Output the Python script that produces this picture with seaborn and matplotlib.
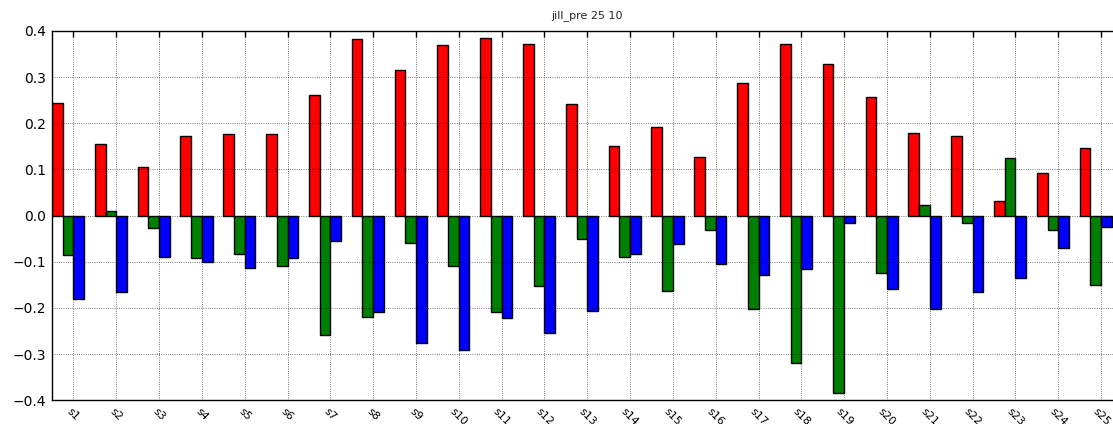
import numpy as np
import pandas as pd
import matplotlib
matplotlib.use("Agg")
import matplotlib.pyplot as plt
import seaborn as sns

labels = [f"s{i}" for i in range(1, 26)]

red_vals = [0.245, 0.155, 0.105, 0.173, 0.177, 0.177, 0.261, 0.382, 0.316, 0.370,
            0.385, 0.372, 0.242, 0.150, 0.193, 0.126, 0.288, 0.372, 0.328, 0.257,
            0.179, 0.172, 0.032, 0.093, 0.146]
green_vals = [-0.085, 0.010, -0.026, -0.092, -0.083, -0.110, -0.258, -0.220, -0.060, -0.108,
              -0.208, -0.153, -0.050, -0.090, -0.164, -0.031, -0.202, -0.319, -0.384, -0.125,
              0.022, -0.015, 0.124, -0.032, -0.151]
blue_vals = [-0.181, -0.166, -0.090, -0.101, -0.114, -0.091, -0.054, -0.208, -0.275, -0.290,
             -0.222, -0.255, -0.207, -0.083, -0.062, -0.105, -0.128, -0.116, -0.015, -0.159,
             -0.203, -0.166, -0.136, -0.071, -0.025]

y_ticks = [-0.4, -0.3, -0.2, -0.1, 0.0, 0.1, 0.2, 0.3, 0.4]

series_names = ["a", "b", "c"]
colors = ["red", "green", "blue"]

df = pd.DataFrame({
    "sample": labels * 3,
    "series": np.repeat(series_names, len(labels)),
    "value": red_vals + green_vals + blue_vals,
})

sns.set_style("white")
plt.rcParams.update({
    "font.family": ["DejaVu Sans"],
    "xtick.direction": "in",
    "ytick.direction": "in",
    "xtick.top": True,
    "ytick.right": True,
    "xtick.major.size": 4,
    "ytick.major.size": 4,
    "axes.edgecolor": "black",
    "axes.linewidth": 1.0,
})

fig = plt.figure(figsize=(11.13, 4.24), dpi=100)
ax = fig.add_axes([52 / 1113, 1 - 400.3 / 424, (1122.5 - 52) / 1113, (400.3 - 31) / 424])

sns.barplot(data=df, x="sample", y="value", hue="series", hue_order=series_names,
            palette=colors, width=0.75, gap=0, edgecolor="black", linewidth=1.0,
            saturation=1, legend=False, ax=ax, errorbar=None)

n = len(labels)
ax.set_xlim(-0.375, n - 0.375)
ax.set_ylim(-0.4, 0.4)
ax.set_xticks(np.arange(n) + 0.125)
ax.set_xticklabels(labels, rotation=-45, ha="center", fontsize=8)
ax.set_yticks(y_ticks)
ax.set_yticklabels([f"{v:.1f}".replace("-", "\u2212") for v in y_ticks], fontsize=10)
ax.tick_params(axis="both", colors="black", width=1, pad=4)
ax.grid(True, linestyle=(0, (1, 2.2)), color="black", linewidth=0.5)
ax.set_axisbelow(False)
for spine in ax.spines.values():
    spine.set_visible(True)
    spine.set_color("black")
ax.set_xlabel("")
ax.set_ylabel("")
ax.set_title("jill_pre 25 10", fontsize=8, pad=9)

fig.savefig("out.png", dpi=100)
